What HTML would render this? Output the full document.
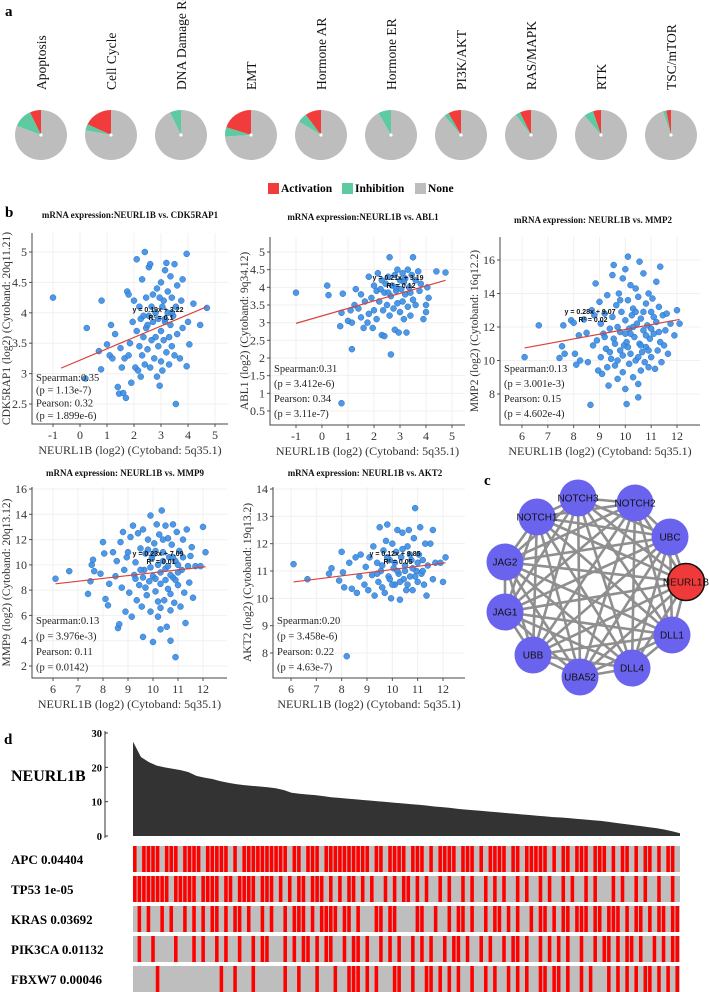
<!DOCTYPE html>
<html><head><meta charset="utf-8"><style>
html,body{margin:0;padding:0;background:#fff}
svg{display:block}
.serif{font-family:"Liberation Serif",serif}
.sans{font-family:"Liberation Sans",sans-serif}
</style></head><body>
<svg id="fig" width="709" height="992" viewBox="0 0 709 992" xmlns="http://www.w3.org/2000/svg">
<text x="5" y="16" class="serif" font-weight="bold" font-size="15">a</text>
<text x="5" y="217" class="serif" font-weight="bold" font-size="15">b</text>
<text x="484" y="485" class="serif" font-weight="bold" font-size="15">c</text>
<text x="4" y="744" class="serif" font-weight="bold" font-size="15">d</text>
<g id="pies"></g>
<g id="legendA">
<rect x="268" y="183" width="11" height="11" fill="#f23c3c"/>
<text x="281" y="192" class="serif" font-weight="bold" font-size="11.5">Activation</text>
<rect x="342" y="183" width="11" height="11" fill="#5ecaa2"/>
<text x="355" y="192" class="serif" font-weight="bold" font-size="11.5">Inhibition</text>
<rect x="415" y="183" width="11" height="11" fill="#bdbdbd"/>
<text x="428" y="192" class="serif" font-weight="bold" font-size="11.5">None</text>
</g>
<g id="scatters"></g>
<g id="network"></g>
<g id="panelD"></g>
</svg>
<script>
var NS='http://www.w3.org/2000/svg';
function mk(tag,attrs,parent){var e=document.createElementNS(NS,tag);for(var k in attrs)e.setAttribute(k,attrs[k]);parent.appendChild(e);return e;}

/* ---------- Panel a data ---------- */
var pathways=['Apoptosis','Cell Cycle','DNA Damage Response','EMT','Hormone AR','Hormone ER','PI3K/AKT','RAS/MAPK','RTK','TSC/mTOR'];
var activation=[0.07,0.18,0,0.20,0.10,0,0.08,0.07,0.05,0.03];
var inhibition=[0.12,0.04,0.07,0.06,0.06,0.08,0.03,0.03,0.06,0.02];

(function(){
  var g=document.getElementById('pies');
  function pt(cx,cy,rx,ry,f){var a=-Math.PI/2-f*2*Math.PI;return [cx+rx*Math.cos(a),cy+ry*Math.sin(a)];}
  function sector(cx,cy,rx,ry,f0,f1,col,name){
    if(f1-f0<=0)return;
    var p0=pt(cx,cy,rx,ry,f0),p1=pt(cx,cy,rx,ry,f1),large=(f1-f0)>0.5?1:0;
    var e=mk('path',{d:'M'+cx+','+cy+'L'+p0[0]+','+p0[1]+'A'+rx+','+ry+' 0 '+large+' 0 '+p1[0]+','+p1[1]+'Z',fill:col},g);
    
    
  }
  for(var i=0;i<pathways.length;i++){
    var cx=41+i*70,cy=135,rx=26,ry=25;
    var t=mk('text',{x:0,y:0,transform:'translate('+(cx+5)+',90) rotate(-90)','font-size':'13.5',class:'serif',fill:'#111'},g);
    t.textContent=pathways[i];
    
    
    var a=activation[i],b=inhibition[i];
    sector(cx,cy,rx,ry,0,a,'#f23c3c','pie-activation');
    sector(cx,cy,rx,ry,a,a+b,'#5ecaa2','pie-inhibition');
    sector(cx,cy,rx,ry,a+b,0.9999,'#bdbdbd','pie-none');
    var d=mk('circle',{cx:cx,cy:cy,r:1.6,fill:'#fff'},g);
    
    
  }
})();

/* ---------- Panel b data ---------- */
var p1x=[-1,0.25,0.8,0.2,0.7,0.78,1.0,1.15,1.1,1.2,1.3,1.4,1.45,1.5,1.55,1.6,1.65,1.7,1.75,1.8,1.8,1.85,1.9,1.95,2.0,2.05,2.1,2.1,2.15,2.2,2.2,2.25,2.25,2.3,2.3,2.35,2.4,2.4,2.45,2.45,2.5,2.55,2.55,2.6,2.6,2.65,2.7,2.7,2.75,2.8,2.8,2.85,2.85,2.9,2.9,2.95,3.0,3.0,3.0,3.05,3.05,3.1,3.1,3.15,3.15,3.2,3.2,3.25,3.25,3.3,3.3,3.35,3.35,3.4,3.4,3.45,3.5,3.5,3.55,3.55,3.6,3.6,3.7,3.75,3.8,3.8,3.95,3.95,4.0,4.05,4.2,4.45,4.7,2.35,2.65,2.95,3.15,2.5,3.4];
var p1y=[4.25,3.75,4.2,2.92,3.37,3.07,3.48,3.8,3.3,3.25,3.65,2.78,2.67,3.42,3.1,2.68,3.25,2.6,4.35,4.3,3.3,3.5,2.85,3.85,4.2,3.1,4.88,3.7,3.05,4.1,3.45,3.9,2.95,3.3,4.55,3.6,5.0,3.15,4.25,3.75,3.4,4.75,3.95,4.8,3.1,3.55,4.3,3.85,3.25,4.0,3.6,4.4,2.95,3.45,3.9,2.8,4.5,3.7,3.2,4.1,3.05,4.2,3.55,4.7,3.85,4.82,3.35,4.35,4.0,3.6,3.15,4.6,3.8,4.25,3.45,3.95,4.8,3.3,2.5,4.1,3.65,4.45,3.25,4.2,3.75,4.55,4.97,3.12,3.85,3.48,4.15,3.8,4.08,3.95,4.1,4.25,3.9,3.8,4.0];
var p2x=[-1,0.2,0.25,0.7,0.75,0.8,0.75,1.0,1.1,1.15,1.15,1.25,1.3,1.4,1.5,1.5,1.6,1.65,1.75,1.8,1.8,1.9,1.95,2.0,2.0,2.1,2.1,2.15,2.2,2.3,2.3,2.35,2.4,2.4,2.45,2.5,2.55,2.6,2.6,2.65,2.65,2.7,2.75,2.8,2.8,2.85,2.9,2.9,2.95,3.0,3.0,3.05,3.1,3.1,3.15,3.2,3.2,3.25,3.3,3.3,3.35,3.4,3.45,3.5,3.5,3.6,3.6,3.7,3.75,3.8,3.9,4.0,4.0,4.05,4.1,4.4,4.75,2.25,2.55,3.15,2.85,3.4];
var p2y=[3.85,4.05,3.78,2.9,3.28,3.82,0.72,3.05,3.35,2.25,3.0,3.5,3.95,3.4,3.8,3.15,2.85,3.6,3.0,4.3,3.25,3.7,2.85,4.05,3.35,3.9,3.1,4.4,3.6,2.65,4.2,3.35,3.85,2.62,4.1,3.5,4.3,4.85,3.2,2.1,3.75,4.05,3.4,4.35,2.8,3.9,4.5,3.55,2.72,4.2,3.3,3.95,4.4,3.6,3.1,4.25,3.8,2.72,4.5,3.45,4.0,3.2,4.35,4.85,3.65,4.2,3.5,4.45,3.9,4.1,3.1,3.5,3.3,4.0,3.7,4.45,4.42,3.95,3.85,4.15,4.0,3.85];
var p3x=[6.1,6.65,7.45,7.55,7.6,7.65,7.9,8.0,8.05,8.1,8.2,8.25,8.4,8.5,8.55,8.65,8.7,8.75,8.8,8.85,8.9,8.95,9.0,9.05,9.05,9.1,9.15,9.2,9.25,9.3,9.35,9.4,9.45,9.5,9.5,9.55,9.55,9.6,9.65,9.7,9.7,9.75,9.8,9.8,9.85,9.9,9.9,9.95,10.0,10.0,10.0,10.05,10.05,10.1,10.1,10.15,10.15,10.2,10.2,10.25,10.3,10.3,10.35,10.4,10.4,10.45,10.5,10.5,10.5,10.55,10.55,10.6,10.6,10.65,10.7,10.7,10.75,10.8,10.8,10.85,10.9,10.9,10.95,11.0,11.0,11.05,11.1,11.15,11.2,11.2,11.25,11.3,11.35,11.35,11.4,11.45,11.5,11.55,11.6,11.65,11.75,11.9,12.0,12.1,9.6,9.9,10.2,10.4,10.6,10.8,11.0,10.1,9.4,9.2,9.8,10.3,10.7,11.1,9.7,10.0,10.5,10.9,11.3,9.3];
var p3y=[10.2,12.1,10.15,10.85,12.1,10.4,12.4,12.25,10.4,9.75,11.5,10.0,12.45,11.65,9.9,7.35,13.0,10.9,12.7,14.6,11.2,9.4,13.5,12.2,10.2,9.2,11.6,12.8,10.7,13.9,8.5,11.9,10.1,15.1,12.6,15.7,11.3,9.7,13.3,8.9,12.0,14.0,10.6,11.7,12.9,9.3,14.9,10.9,15.45,12.4,8.3,11.1,7.4,16.2,13.6,9.8,11.9,14.5,10.4,12.7,9.0,13.1,11.4,14.3,10.0,12.2,8.6,7.8,13.8,11.0,15.9,9.4,12.5,10.5,15.2,11.8,9.9,13.4,10.8,12.1,14.0,9.6,11.3,12.9,10.2,13.7,11.6,9.5,14.7,12.3,10.6,13.2,15.6,11.1,9.9,12.7,10.9,11.8,12.8,10.4,12.2,11.5,13.0,12.2,11.0,10.3,11.6,12.9,10.9,11.5,11.9,10.8,10.5,11.4,13.6,12.0,12.9,12.6,10.0,11.6,10.2,10.6,11.7,9.6];
var p4x=[6.1,6.65,7.4,7.5,7.55,7.6,7.65,7.9,8.0,8.05,8.1,8.2,8.25,8.4,8.5,8.55,8.6,8.65,8.7,8.75,8.8,8.85,8.9,8.95,9.0,9.05,9.1,9.15,9.2,9.25,9.3,9.35,9.4,9.45,9.5,9.55,9.6,9.6,9.65,9.7,9.75,9.8,9.85,9.9,9.9,9.95,10.0,10.0,10.05,10.1,10.15,10.2,10.2,10.25,10.3,10.3,10.35,10.4,10.45,10.5,10.5,10.55,10.6,10.6,10.65,10.7,10.7,10.75,10.8,10.8,10.85,10.9,10.9,10.95,11.0,11.05,11.1,11.15,11.2,11.25,11.3,11.35,11.4,11.45,11.5,11.55,11.6,11.7,11.9,12.0,12.1,9.6,9.9,10.1,10.3,10.5,10.7,10.9,10.2,10.4,10.0,9.7,9.3,10.6,10.8,11.0,10.1,10.4,9.8,10.7,10.3,9.5,11.2,11.0];
var p4y=[8.9,9.5,7.7,8.7,10.0,10.4,9.5,9.3,11.8,10.9,7.3,6.8,8.5,11.0,9.1,10.3,5.0,5.3,11.8,8.2,12.6,9.6,6.3,10.6,11.0,7.8,12.2,5.9,13.1,9.2,10.2,7.2,12.5,8.4,11.3,6.7,12.8,4.3,9.6,10.9,7.6,12.0,8.7,13.9,6.3,10.5,9.1,3.9,11.7,7.9,13.2,5.9,10.0,12.4,8.5,4.9,14.3,11.0,7.2,9.7,13.1,5.1,12.1,8.1,10.6,6.4,4.0,11.6,9.0,13.2,7.0,2.7,10.3,12.6,8.4,11.1,6.7,9.6,12.0,7.8,5.4,12.8,9.9,8.6,10.7,11.4,7.4,9.9,9.9,13.0,11.0,9.0,9.8,8.9,9.4,8.8,9.2,8.8,7.1,10.3,10.8,8.2,8.9,9.9,10.6,9.4,11.1,12.0,11.2,7.7,6.6,9.6,10.6,10.0];
var p5x=[6.1,6.65,7.5,7.6,7.9,8.0,8.05,8.1,8.2,8.3,8.4,8.55,8.6,8.7,8.75,8.9,8.95,9.05,9.1,9.2,9.25,9.3,9.4,9.45,9.5,9.55,9.6,9.65,9.7,9.75,9.8,9.85,9.9,9.95,10.0,10.05,10.1,10.15,10.2,10.25,10.3,10.35,10.4,10.45,10.5,10.55,10.6,10.65,10.7,10.75,10.8,10.85,10.9,10.95,11.0,11.05,11.1,11.15,11.2,11.25,11.3,11.35,11.4,11.5,11.6,11.6,11.7,11.9,12.0,12.1,9.6,9.9,10.1,10.3,10.5,10.7,10.9,10.2,10.4,10.0,9.8,10.6,11.0,10.8,9.4,11.2];
var p5y=[11.25,10.7,10.9,11.1,10.65,11.7,10.95,10.4,7.88,11.3,10.35,11.5,10.2,10.8,11.6,10.5,11.15,10.3,11.5,10.85,11.9,10.1,11.3,10.6,12.6,11.0,10.4,11.75,10.2,12.1,12.7,10.8,11.4,10.0,12.0,11.1,10.5,11.7,12.5,10.9,9.95,11.5,12.4,10.7,11.2,10.3,11.9,12.5,10.8,11.4,10.3,12.2,13.3,11.0,10.6,11.6,12.6,10.9,11.4,10.5,12.0,10.1,11.2,12.0,12.5,10.7,11.3,11.3,10.6,11.5,11.2,10.7,11.3,10.6,11.0,11.6,10.8,11.0,11.8,10.5,11.5,10.5,11.3,11.1,10.9,11.0];
/* regression line endpoints [x0,y0,x1,y1] */
var fit1=[-0.7,3.09,4.7,4.1], fit2=[-1,2.98,4.75,4.2], fit3=[6.1,10.75,12.1,12.45], fit4=[6.1,8.5,12.1,9.85], fit5=[6.1,10.6,12.1,11.3];
var xTicks1=[-1,0,1,2,3,4,5], yTicks1=[2.5,3,3.5,4,4.5,5];
var xTicks2=[-1,0,1,2,3,4,5], yTicks2=[0.5,1,1.5,2,2.5,3,3.5,4,4.5,5];
var xTicks3=[6,7,8,9,10,11,12], yTicks3=[8,10,12,14,16];
var xTicks4=[6,7,8,9,10,11,12], yTicks4=[2,4,6,8,10,12,14,16];
var xTicks5=[6,7,8,9,10,11,12], yTicks5=[8,9,10,11,12,13,14];
var stats1=['Spearman:0.35','(p = 1.13e-7)','Pearson: 0.32','(p = 1.899e-6)'];
var stats2=['Spearman:0.31','(p = 3.412e-6)','Pearson: 0.34','(p = 3.11e-7)'];
var stats3=['Spearman:0.13','(p = 3.001e-3)','Pearson: 0.15','(p = 4.602e-4)'];
var stats4=['Spearman:0.13','(p = 3.976e-3)','Pearson: 0.11','(p = 0.0142)'];
var stats5=['Spearman:0.20','(p = 3.458e-6)','Pearson: 0.22','(p = 4.63e-7)'];

(function(){
  var root=document.getElementById('scatters');
  var plots=[
    {xs:p1x,ys:p1y,fit:fit1,xt:xTicks1,yt:yTicks1,st:stats1,l:32,r:228,t:233,b:424,xv:[-1,5],xp:[53,215],yv:[5,2.5],yp:[252,404],title:'mRNA expression:NEURL1B vs. CDK5RAP1',tx:130,ty:218,yl:'CDK5RAP1 (log2) (Cytoband: 20q11.21)',eq:'y = 0.19x + 3.22',r2:'R\u00b2 = 0.1',ex:158,ey:312,sy:381,ss:12.7},
    {xs:p2x,ys:p2y,fit:fit2,xt:xTicks2,yt:yTicks2,st:stats2,l:270,r:465,t:237,b:425,xv:[-1,5],xp:[296,452],yv:[5,0.5],yp:[252,411],title:'mRNA expression:NEURL1B vs. ABL1',tx:363,ty:220,yl:'ABL1 (log2) (Cytoband: 9q34.12)',eq:'y = 0.21x + 3.19',r2:'R\u00b2 = 0.12',ex:398,ey:280,sy:372,ss:15},
    {xs:p3x,ys:p3y,fit:fit3,xt:xTicks3,yt:yTicks3,st:stats3,l:500,r:700,t:237,b:425,xv:[6,12],xp:[522,677],yv:[16,8],yp:[260,394],title:'mRNA expression: NEURL1B vs. MMP2',tx:593,ty:223,yl:'MMP2 (log2) (Cytoband: 16q12.2)',eq:'y = 0.28x + 9.07',r2:'R\u00b2 = 0.02',ex:590,ey:314,sy:372,ss:15},
    {xs:p4x,ys:p4y,fit:fit4,xt:xTicks4,yt:yTicks4,st:stats4,l:32,r:227,t:487,b:678,xv:[6,12],xp:[53,203],yv:[16,2],yp:[489,666],title:'mRNA expression: NEURL1B vs. MMP9',tx:125,ty:476,yl:'MMP9 (log2) (Cytoband: 20q13.12)',eq:'y = 0.23x + 7.09',r2:'R\u00b2 = 0.01',ex:158,ey:556,sy:624,ss:15.5},
    {xs:p5x,ys:p5y,fit:fit5,xt:xTicks5,yt:yTicks5,st:stats5,l:273,r:465,t:487,b:678,xv:[6,12],xp:[291,443],yv:[14,8],yp:[489,653],title:'mRNA expression: NEURL1B vs. AKT2',tx:365,ty:476,yl:'AKT2 (log2) (Cytoband: 19q13.2)',eq:'y = 0.12x + 9.85',r2:'R\u00b2 = 0.05',ex:395,ey:556,sy:624,ss:15.5}
  ];
  plots.forEach(function(P,pi){
    var g=mk('g',{},root);
    
    
    function X(v){return P.xp[0]+(v-P.xv[0])*(P.xp[1]-P.xp[0])/(P.xv[1]-P.xv[0]);}
    function Y(v){return P.yp[0]+(v-P.yv[0])*(P.yp[1]-P.yp[0])/(P.yv[1]-P.yv[0]);}
    P.xt.forEach(function(v){
      var gl=mk('line',{x1:X(v),x2:X(v),y1:P.t,y2:P.b,stroke:'#f0f0f0','stroke-width':1},g);
      
      
      var tk=mk('line',{x1:X(v),x2:X(v),y1:P.b,y2:P.b+3,stroke:'#555'},g);
      
      
      var t=mk('text',{x:X(v),y:P.b+15,'text-anchor':'middle','font-size':'12',class:'serif',fill:'#333'},g);
      t.textContent=v;
      
      
    });
    P.yt.forEach(function(v){
      var gl=mk('line',{x1:P.l,x2:P.r,y1:Y(v),y2:Y(v),stroke:'#f0f0f0','stroke-width':1},g);
      
      
      var tk=mk('line',{x1:P.l-3,x2:P.l,y1:Y(v),y2:Y(v),stroke:'#555'},g);
      
      
      var t=mk('text',{x:P.l-5,y:Y(v)+4,'text-anchor':'end','font-size':'12',class:'serif',fill:'#333'},g);
      t.textContent=v;
      
      
    });
    var ax=mk('path',{d:'M'+P.l+','+P.t+'V'+P.b+'H'+P.r,fill:'none',stroke:'#444','stroke-width':1},g);
    
    
    for(var i=0;i<P.xs.length;i++){
      var c=mk('circle',{cx:X(P.xs[i]),cy:Y(P.ys[i]),r:3,fill:'#3a8ee6',stroke:'#2a6fc0','stroke-width':0.5,'fill-opacity':0.9},g);
      
      
    }
    var fl=mk('line',{x1:X(P.fit[0]),y1:Y(P.fit[1]),x2:X(P.fit[2]),y2:Y(P.fit[3]),stroke:'#d9423a','stroke-width':1.2},g);
    
    
    var e1=mk('text',{x:P.ex,y:P.ey,'text-anchor':'middle','font-size':'7','font-weight':'bold',class:'sans',fill:'#111'},g);
    e1.textContent=P.eq;
    
    
    var e2=mk('text',{x:P.ex+3,y:P.ey+8,'text-anchor':'middle','font-size':'7','font-weight':'bold',class:'sans',fill:'#111'},g);
    e2.textContent=P.r2;
    
    
    P.st.forEach(function(s,k){
      var t=mk('text',{x:P.l+4,y:P.sy+k*P.ss,'font-size':'10.5',class:'serif',fill:'#222'},g);
      t.textContent=s;
      
      
    });
    var tt=mk('text',{x:P.tx,y:P.ty,'text-anchor':'middle','font-size':'9','font-weight':'bold',class:'serif',fill:'#111'},g);
    tt.textContent=P.title;
    
    
    var xl=mk('text',{x:(P.l+P.r)/2,y:P.b+30,'text-anchor':'middle','font-size':'12',class:'serif',fill:'#333'},g);
    xl.textContent='NEURL1B (log2) (Cytoband: 5q35.1)';
    
    
    var yl=mk('text',{x:0,y:0,transform:'translate('+(P.l-22)+','+((P.t+P.b)/2)+') rotate(-90)','text-anchor':'middle','font-size':'11.5',class:'serif',fill:'#333'},g);
    yl.textContent=P.yl;
    
    
  });
})();

/* ---------- Panel c network ---------- */
var nodeNames=['NOTCH3','NOTCH2','UBC','NEURL1B','DLL1','DLL4','UBA52','UBB','JAG1','JAG2','NOTCH1'];
(function(){
  var g=document.getElementById('network');
  var pos=[[578,498],[635,503],[670,537],[686,582],[672,635],[632,668],[580,677],[533,655],[505,612],[505,562],[537,517]];
  for(var i=0;i<pos.length;i++)for(var j=i+1;j<pos.length;j++){
    var e=mk('line',{x1:pos[i][0],y1:pos[i][1],x2:pos[j][0],y2:pos[j][1],stroke:'#8f8f8f','stroke-width':2.6},g);
    
    
  }
  for(var k=0;k<pos.length;k++){
    var red=nodeNames[k]==='NEURL1B';
    var c=mk('circle',{cx:pos[k][0],cy:pos[k][1],r:18.5,fill:red?'#f03a3a':'#6a63ee',stroke:red?'#111':'none','stroke-width':1.5},g);
    
    
    var t=mk('text',{x:pos[k][0],y:pos[k][1]+3.5,'text-anchor':'middle','font-size':'10',class:'sans',fill:'#111'},g);
    t.textContent=nodeNames[k];
    
    
  }
})();

/* ---------- Panel d data ---------- */
var exprValues=[27.5,23,21.5,20.5,20,19.6,19.2,18.6,17.5,17,16.6,16,15.5,15.1,14.8,14.6,14.4,14.2,13.9,13.4,12.6,12.3,12.1,11.9,11.6,11.3,11.1,10.9,10.7,10.5,10.3,10.1,9.9,9.7,9.5,9.3,9.1,8.9,8.6,8.4,8.2,7.9,7.7,7.5,7.3,7.1,6.9,6.7,6.5,6.3,6.1,5.9,5.7,5.5,5.4,5.2,5.0,4.8,4.6,4.4,4.1,3.8,3.5,3.2,2.9,2.6,2.3,1.9,1.4,0.8];
var yTicksD=[0,10,20,30];
var mutGenes=['APC 0.04404','TP53 1e-05','KRAS 0.03692','PIK3CA 0.01132','FBXW7 0.00046'];
var mutAPC  ='101111011101111011111010111111111101101110111111111101101111011101011110111010111101101111101011011101110101101011010110';
var mutTP53 ='111111110111110111101101111011101010110111010101101010010101101010010100101001010100101001010010100101000101001010010010';
var mutKRAS ='010100101001010101101011010010100101110101111011010001101100001100100101101001011010100101101011011101101110101101011011';
var mutPIK3CA='010010000100010100101001001011000101011010110010110100101010010101001011010010100101101001010101001001011010110100101011';
var mutFBXW7='000001000000000000010010001000000100100010001001110101000110010011010101001001010010101001101101001010001010101011010101';
(function(){
  var g=document.getElementById('panelD');
  var L=133,R=680,Y0=836,Y30=733;
  function Y(v){return Y0-(v/30)*(Y0-Y30);}
  var ax=mk('line',{x1:105,x2:105,y1:Y30-2,y2:Y0+2,stroke:'#333'},g);
  
  
  yTicksD.forEach(function(v){
    var tk=mk('line',{x1:105,x2:108,y1:Y(v),y2:Y(v),stroke:'#333'},g);
    
    
    var t=mk('text',{x:102,y:Y(v)+4,'text-anchor':'end','font-size':'10.5','font-weight':'bold',class:'serif'},g);
    t.textContent=v;
    
    
  });
  var n=exprValues.length;
  function XD(i){return L+i*(R-L)/(n-1);}
  var d='M'+L+','+Y0;
  for(var i=0;i<n;i++){d+='L'+XD(i)+','+Y(exprValues[i]);}
  d+='L'+R+','+Y0+'Z';
  var area=mk('path',{d:d,fill:'#333'},g);
  
  
  var lb=mk('text',{x:11,y:781,'font-size':'16','font-weight':'bold',class:'serif'},g);
  lb.textContent='NEURL1B';
  
  
  var rows=[mutAPC,mutTP53,mutKRAS,mutPIK3CA,mutFBXW7];
  rows.forEach(function(s,r){
    var top=846+r*30,h=26;
    var bg=mk('rect',{x:L,y:top,width:R-L,height:h,fill:'#bebebe'},g);
    
    
    var cw=(R-L)/s.length;
    for(var k=0;k<s.length;k++){
      if(s[k]==='1'){
        var m=mk('rect',{x:L+k*cw,y:top,width:cw*0.78,height:h,fill:'#ff0000'},g);
        
        
      }
    }
    var t=mk('text',{x:11,y:top+18,'font-size':'13','font-weight':'bold',class:'serif'},g);
    t.textContent=mutGenes[r];
    
    
  });
})();
</script>
</body></html>
